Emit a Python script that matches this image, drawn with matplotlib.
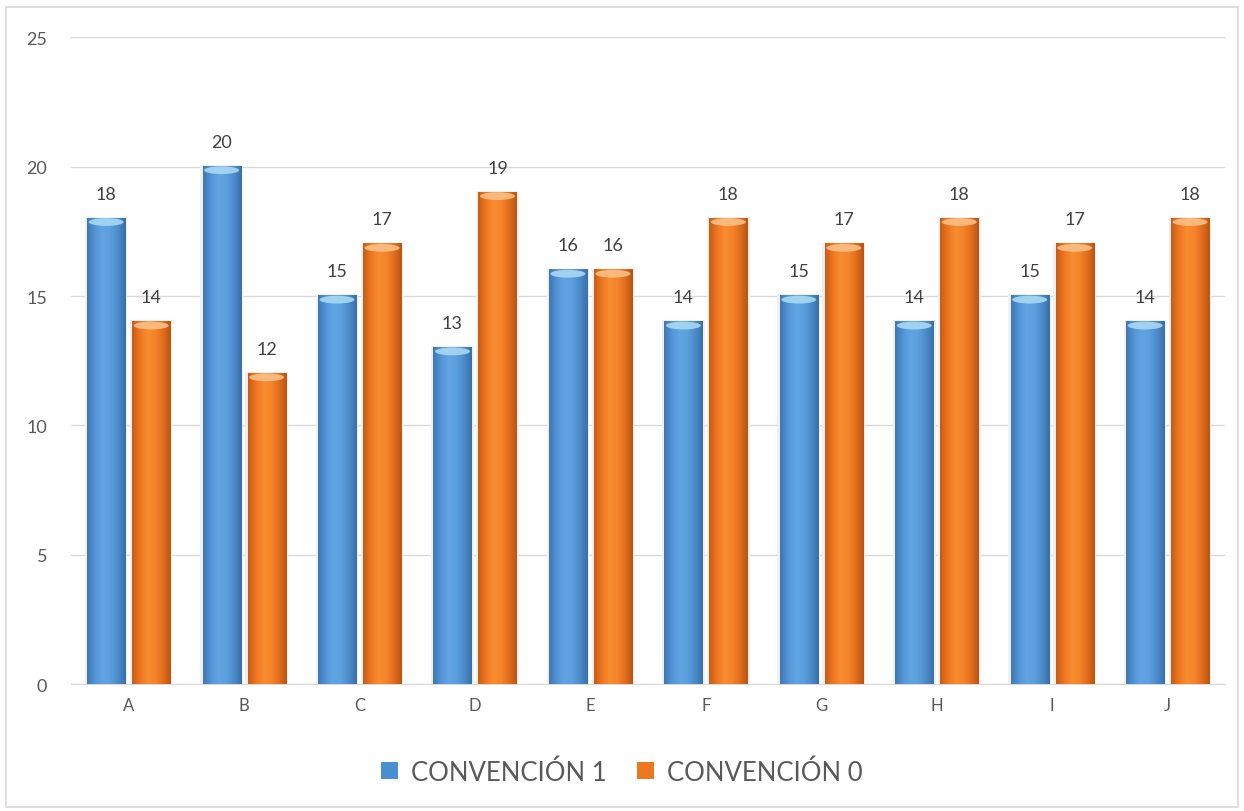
import matplotlib.pyplot as plt
import matplotlib.patches as patches
from matplotlib.colors import LinearSegmentedColormap
import numpy as np

categories = ['A', 'B', 'C', 'D', 'E', 'F', 'G', 'H', 'I', 'J']
conv1 = [18, 20, 15, 13, 16, 14, 15, 14, 15, 14]
conv0 = [14, 12, 17, 19, 16, 18, 17, 18, 17, 18]
series_names = ['CONVENCIÓN 1', 'CONVENCIÓN 0']

plt.rcParams['font.family'] = ['Lato', 'DejaVu Sans']

fig = plt.figure(figsize=(12.44, 8.12), dpi=100)
ax = fig.add_axes([0.057, 0.156, 0.928, 0.797])

# cylinder-like horizontal shading
blue_cmap = LinearSegmentedColormap.from_list(
    'b', ['#3f78b4', '#5294d6', '#62a4e2', '#5c9fde', '#4d8bca', '#3870a8'])
orange_cmap = LinearSegmentedColormap.from_list(
    'o', ['#c85c14', '#ee7622', '#f98c30', '#f5842b', '#e26e1e', '#b85512'])
grad = np.linspace(0, 1, 64).reshape(1, -1)

x = np.arange(len(categories))
width = 0.33
offset = 0.195


def draw_bar(xc, h, cmap, cap_color):
    x0, x1 = xc - width / 2, xc + width / 2
    # soft shadow
    ax.add_patch(patches.Rectangle((x0 - 0.02, 0), width + 0.04, h + 0.06,
                                   facecolor='#f0f0f0', edgecolor='none', zorder=2))
    ax.imshow(grad, cmap=cmap, extent=(x0, x1, 0, h), aspect='auto',
              interpolation='bicubic', zorder=3)
    # light top cap
    ax.add_patch(patches.Ellipse((xc, h - 0.14), width * 0.92, 0.3,
                                 facecolor=cap_color, edgecolor='none', alpha=0.9, zorder=4))


for i in range(len(categories)):
    draw_bar(x[i] - offset, conv1[i], blue_cmap, '#a8d8f5')
    draw_bar(x[i] + offset, conv0[i], orange_cmap, '#fbbf86')
    ax.text(x[i] - offset, conv1[i] + 0.65, str(conv1[i]), ha='center', va='bottom',
            fontsize=13, color='#404040')
    ax.text(x[i] + offset, conv0[i] + 0.65, str(conv0[i]), ha='center', va='bottom',
            fontsize=13, color='#404040')

ax.set_xlim(-0.5, len(categories) - 0.5)
ax.set_ylim(0, 25)
ax.set_yticks(range(0, 26, 5))
ax.set_xticks(x)
ax.set_xticklabels(categories)
ax.grid(axis='y', color='#d9d9d9', lw=1, zorder=0)
ax.set_axisbelow(True)
for s in ['top', 'right', 'left']:
    ax.spines[s].set_visible(False)
ax.spines['bottom'].set_color('#d9d9d9')
ax.tick_params(axis='both', length=0, colors='#595959')
ax.tick_params(axis='x', pad=9, labelsize=12)
ax.tick_params(axis='y', pad=17, labelsize=13)

# legend
handles = [patches.Patch(facecolor='#4a8fd4', edgecolor='none'),
           patches.Patch(facecolor='#ee7722', edgecolor='none')]
fig.legend(handles, series_names, loc='center', bbox_to_anchor=(0.5, 0.048), ncol=2,
           frameon=False, fontsize=18.5, handlelength=0.65, handleheight=0.65,
           handletextpad=0.5, columnspacing=1.2, labelcolor='#595959')

# outer border
fig.add_artist(patches.Rectangle((0.005, 0.005), 0.99, 0.985, transform=fig.transFigure,
                                 fill=False, edgecolor='#d9d9d9', lw=1.2))

fig.savefig('out.png', dpi=100)
